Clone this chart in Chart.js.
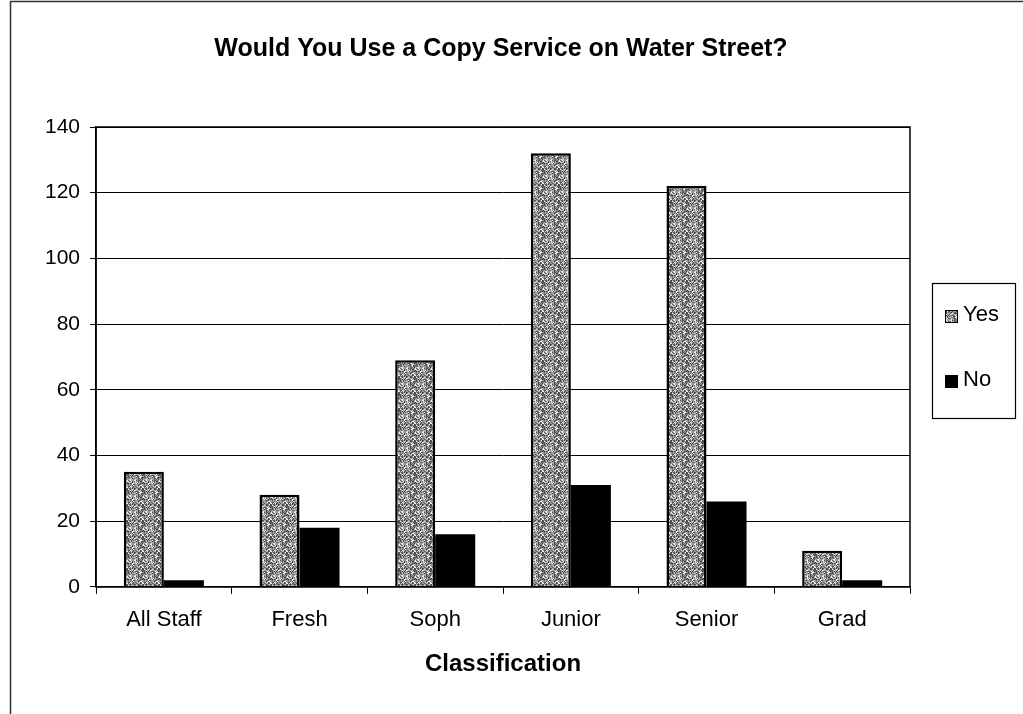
<!DOCTYPE html>
<html>
<head>
<meta charset="utf-8">
<title>Would You Use a Copy Service on Water Street?</title>
<script src="https://cdn.jsdelivr.net/npm/chart.js@4.4.1/dist/chart.umd.min.js"></script>
<style>
  html, body { margin: 0; padding: 0; background: #fff; }
  #wrap { width: 1023px; height: 714px; position: relative; }
</style>
</head>
<body>
<div id="wrap"><canvas id="chart" width="1023" height="714"></canvas></div>
<script>
  // Survey answers per classification
  var categories = ['All Staff', 'Fresh', 'Soph', 'Junior', 'Senior', 'Grad'];
  var yesCounts = [35, 28, 69, 132, 122, 11];
  var noCounts = [2, 18, 16, 31, 26, 2];
  var yTicks = [0, 20, 40, 60, 80, 100, 120, 140];

  var chartTitle = 'Would You Use a Copy Service on Water Street?';
  var FONT = '"Liberation Sans", Arial, sans-serif';

  // Grey stipple fill for the "Yes" bars: fixed hash dither on a 16px tile
  function makeStipple() {
    var size = 16;
    var c = document.createElement('canvas');
    c.width = size; c.height = size;
    var g = c.getContext('2d');
    var img = g.createImageData(size, size);
    for (var y = 0; y < size; y++) {
      for (var x = 0; x < size; x++) {
        var h = ((x * 73856093) ^ (y * 19349663) ^ ((x + y) * 83492791)) >>> 0;
        var k = h % 10;
        var v = k < 4 ? 80 : (k < 8 ? 160 : 235);
        var p = (y * size + x) * 4;
        img.data[p] = img.data[p + 1] = img.data[p + 2] = v;
        img.data[p + 3] = 255;
      }
    }
    g.putImageData(img, 0, 0);
    return g.createPattern(c, 'repeat');
  }

  var yesFill = makeStipple();

  // Sheet frame, title, plot border and the boxed legend
  var framePlugin = {
    id: 'frame',
    beforeDraw: function(chart) {
      var ctx = chart.ctx;
      ctx.save();
      ctx.strokeStyle = '#333';
      ctx.lineWidth = 1.5;
      ctx.beginPath();
      ctx.moveTo(10.5, 714);
      ctx.lineTo(10.5, 1.5);
      ctx.lineTo(1023, 1.5);
      ctx.stroke();

      ctx.fillStyle = '#000';
      ctx.font = 'bold 25px ' + FONT;
      ctx.textAlign = 'center';
      ctx.textBaseline = 'middle';
      ctx.fillText(chartTitle, 501, 49);
      ctx.restore();
    },
    afterDatasetsDraw: function(chart) {
      var a = chart.chartArea;
      var ctx = chart.ctx;
      ctx.save();
      ctx.strokeStyle = '#000';
      ctx.lineWidth = 1.5;
      ctx.strokeRect(a.left, a.top, a.right - a.left, a.bottom - a.top);
      ctx.restore();
    },
    afterDraw: function(chart) {
      var ctx = chart.ctx;
      var boxX = 932, boxY = 283, boxW = 83, boxH = 135;
      ctx.save();
      ctx.strokeStyle = '#000';
      ctx.lineWidth = 1.2;
      ctx.strokeRect(boxX + 0.5, boxY + 0.5, boxW, boxH);
      ctx.font = '22px ' + FONT;
      ctx.textBaseline = 'middle';
      chart.data.datasets.forEach(function(ds, i) {
        var cy = boxY + 33 + i * 65;
        ctx.fillStyle = ds.backgroundColor;
        ctx.fillRect(boxX + 13, cy - 6, 13, 13);
        ctx.strokeStyle = '#000';
        ctx.lineWidth = 1;
        ctx.strokeRect(boxX + 13.5, cy - 5.5, 12, 12);
        ctx.fillStyle = '#000';
        ctx.fillText(ds.label, boxX + 31, cy - 1);
      });
      ctx.restore();
    }
  };

  new Chart(document.getElementById('chart'), {
    type: 'bar',
    data: {
      labels: categories,
      datasets: [
        {
          label: 'Yes',
          data: yesCounts,
          backgroundColor: yesFill,
          borderColor: '#000',
          borderWidth: 2.5,
          borderSkipped: 'bottom',
          barPercentage: 1.0,
          categoryPercentage: 0.59
        },
        {
          label: 'No',
          data: noCounts,
          backgroundColor: '#000',
          borderColor: '#000',
          borderWidth: 0,
          barPercentage: 1.0,
          categoryPercentage: 0.59
        }
      ]
    },
    options: {
      responsive: false,
      animation: false,
      layout: { padding: { left: 35, right: 113, top: 127, bottom: 35 } },
      plugins: {
        title: { display: false },
        legend: { display: false },
        tooltip: { enabled: false }
      },
      scales: {
        x: {
          offset: true,
          grid: {
            offset: true,
            drawOnChartArea: false,
            color: '#000',
            tickLength: 7,
            tickColor: '#000'
          },
          border: { color: '#000', width: 1.5 },
          ticks: { color: '#000', font: { family: FONT, size: 22 }, padding: 13 },
          title: {
            display: true,
            text: 'Classification',
            color: '#000',
            font: { family: FONT, size: 24, weight: 'bold' },
            padding: { top: 4, bottom: 0 }
          }
        },
        y: {
          min: 0,
          max: 140,
          afterBuildTicks: function(axis) {
            axis.ticks = yTicks.map(function(v) { return { value: v }; });
          },
          grid: {
            color: '#000',
            lineWidth: 1,
            tickLength: 6,
            tickColor: '#000'
          },
          border: { color: '#000', width: 1.5 },
          ticks: { color: '#000', font: { family: FONT, size: 21 }, padding: 10 }
        }
      }
    },
    plugins: [framePlugin]
  });
</script>
</body>
</html>
